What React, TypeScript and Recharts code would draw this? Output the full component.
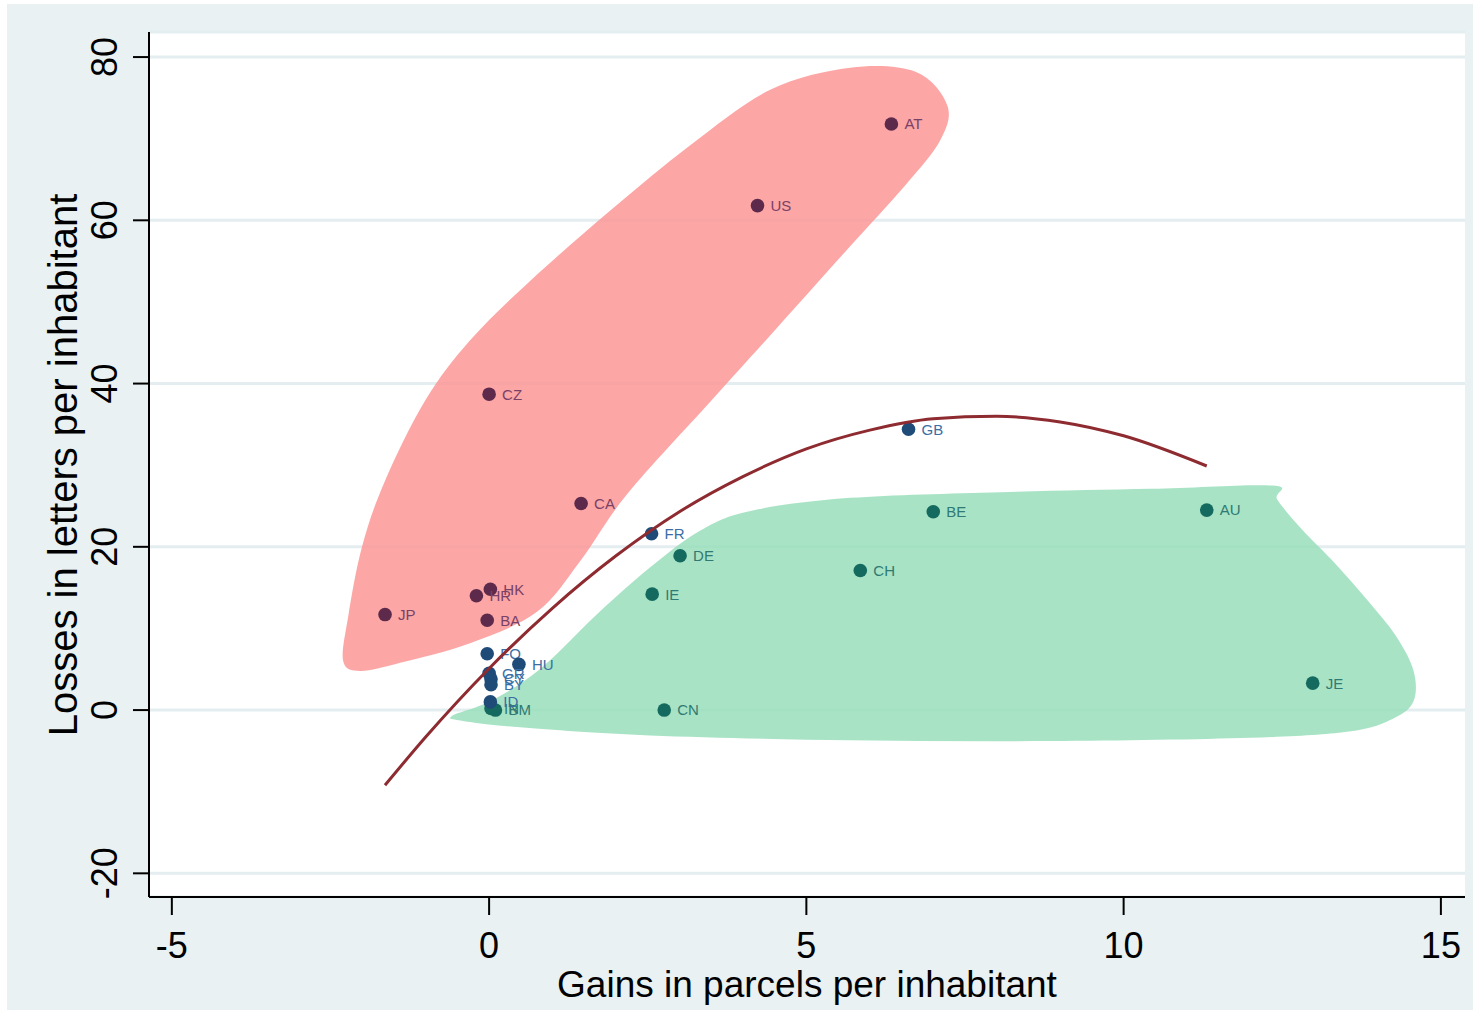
import React from "react";
import { ScatterChart, Scatter, XAxis, YAxis, CartesianGrid, Label } from "recharts";

// countries (gains = x, losses = y)
const RED_NAMES = ["AT", "US", "CZ", "CA", "HK", "HR", "JP", "BA"];
const RED_GAINS = [6.34, 4.23, 0.0, 1.45, 0.02, -0.2, -1.64, -0.03];
const RED_LOSSES = [71.8, 61.8, 38.7, 25.3, 14.8, 14.0, 11.7, 11.0];

const BLUE_NAMES = ["GB", "FR", "FO", "HU", "GR", "CY", "BY", "ID"];
const BLUE_GAINS = [6.61, 2.56, -0.03, 0.47, 0.0, 0.03, 0.03, 0.02];
const BLUE_LOSSES = [34.4, 21.6, 6.9, 5.6, 4.5, 3.8, 3.1, 1.0];

const GREEN_NAMES = ["AU", "BE", "DE", "CH", "IE", "JE", "CN", "IN", "BM"];
const GREEN_GAINS = [11.31, 7.0, 3.01, 5.85, 2.57, 12.98, 2.76, 0.03, 0.1];
const GREEN_LOSSES = [24.5, 24.3, 18.9, 17.1, 14.2, 3.3, 0.0, 0.2, 0.0];

// quadratic fit, sampled from the drawn curve
const FIT_X = [-1.64, -1, 0, 1, 2, 3, 4, 5, 6, 7, 8, 9, 10, 11.31];
const FIT_Y = [-9.2, -3.3, 5.1, 12.5, 18.9, 24.3, 28.6, 32.0, 34.3, 35.7, 36.0, 35.3, 33.6, 29.9];

// shaded group outlines
const RED_HULL_X = [-2.3, -2.22, -2.0, -1.64, -1.01, -0.3, 0.65, 1.91, 3.17, 4.43, 5.69, 6.72, 7.22, 7.11, 6.56, 5.63, 4.5, 3.5, 2.18, 1.44, 0.75, -0.3, -1.4, -2.03];
const RED_HULL_Y = [6.0, 11.5, 20.1, 28.1, 37.9, 45.3, 52.6, 61.2, 69.2, 76.0, 78.7, 78.2, 74.1, 69.8, 64.3, 56.3, 46.5, 37.9, 26.5, 18.3, 12.0, 8.2, 5.8, 4.8];
const GREEN_HULL_X = [-0.58, 0.02, 0.8, 1.75, 2.54, 3.33, 4.12, 5.69, 8.06, 10.43, 12.35, 12.42, 12.79, 13.34, 13.85, 14.29, 14.57, 14.57, 14.26, 13.58, 12.0, 8.85, 5.69, 2.54, 0.49, -0.43];
const GREEN_HULL_Y = [-0.7, 1.1, 5.0, 12.1, 17.5, 22.0, 24.4, 26.0, 26.7, 27.1, 27.5, 25.8, 22.3, 17.9, 13.4, 9.1, 4.8, 1.1, -1.0, -2.6, -3.4, -3.8, -3.7, -3.1, -2.1, -1.3];

const X_TICKS = [-5, 0, 5, 10, 15];
const Y_TICKS = [-20, 0, 20, 40, 60, 80];

const FONT = "'Liberation Sans', Arial, sans-serif";
const BG = "#E9F1F3";
const GRID = "#E4EDF0";

const zip = (xs: number[], ys: number[], names?: string[]) =>
  xs.map((x, i) => ({ x, y: ys[i], name: names ? names[i] : "" }));

const redPts = zip(RED_GAINS, RED_LOSSES, RED_NAMES);
const bluePts = zip(BLUE_GAINS, BLUE_LOSSES, BLUE_NAMES);
const greenPts = zip(GREEN_GAINS, GREEN_LOSSES, GREEN_NAMES);
const fitPts = zip(FIT_X, FIT_Y);
const redHull = zip(RED_HULL_X, RED_HULL_Y);
const greenHull = zip(GREEN_HULL_X, GREEN_HULL_Y);

// closed catmull-rom through pixel points
function closedPath(pts: { x: number; y: number }[]) {
  const n = pts.length;
  if (!n) return "";
  let d = `M${pts[0].x},${pts[0].y}`;
  for (let i = 0; i < n; i++) {
    const p0 = pts[(i - 1 + n) % n];
    const p1 = pts[i];
    const p2 = pts[(i + 1) % n];
    const p3 = pts[(i + 2) % n];
    const c1x = p1.x + (p2.x - p0.x) / 6;
    const c1y = p1.y + (p2.y - p0.y) / 6;
    const c2x = p2.x - (p3.x - p1.x) / 6;
    const c2y = p2.y - (p3.y - p1.y) / 6;
    d += ` C${c1x},${c1y} ${c2x},${c2y} ${p2.x},${p2.y}`;
  }
  return d + " Z";
}

function Blob(props: any) {
  return <path d={closedPath(props.points || [])} fill={props.tint} fillOpacity={0.85} stroke="none" />;
}

const noDot = () => <g />;

const dot = (fill: string, text: string) => (p: any) => {
  const name = p.payload?.name ?? p.name;
  return (
    <g>
      <circle cx={p.cx} cy={p.cy} r={6.8} fill={fill} />
      <text x={p.cx + 13} y={p.cy} dy="0.36em" fontSize={15} fontFamily={FONT} fill={text}>
        {name}
      </text>
    </g>
  );
};

const YTick = ({ x, y, payload }: any) => (
  <text
    x={x - 16}
    y={y}
    transform={`rotate(-90, ${x - 16}, ${y})`}
    textAnchor="middle"
    fontSize={36}
    fontFamily={FONT}
    fill="#000"
  >
    {payload.value}
  </text>
);

const XTick = ({ x, y, payload }: any) => (
  <text x={x} y={y + 43} textAnchor="middle" fontSize={36} fontFamily={FONT} fill="#000">
    {payload.value}
  </text>
);

export default function App() {
  return (
    <div style={{ position: "absolute", left: 7, top: 4, width: 1466, height: 1006, background: BG }}>
      <ScatterChart width={1466} height={1006} margin={{ top: 28, right: 8, left: 0, bottom: 0 }}>
        <CartesianGrid horizontal vertical={false} fill="#fff" stroke={GRID} strokeWidth={3} />
        <XAxis
          type="number"
          dataKey="x"
          domain={[-5.36, 15.38]}
          ticks={X_TICKS}
          interval={0}
          allowDataOverflow
          height={113}
          tickSize={18}
          tickMargin={0}
          axisLine={{ stroke: "#000", strokeWidth: 2 }}
          tickLine={{ stroke: "#000", strokeWidth: 2 }}
          tick={<XTick />}
        >
          <Label
            content={() => (
              <text x={800} y={993} textAnchor="middle" fontSize={37} fontFamily={FONT} fill="#000">
                Gains in parcels per inhabitant
              </text>
            )}
          />
        </XAxis>
        <YAxis
          type="number"
          dataKey="y"
          domain={[-22.9, 83.07]}
          ticks={Y_TICKS}
          interval={0}
          allowDataOverflow
          width={142}
          tickSize={16}
          tickMargin={0}
          axisLine={{ stroke: "#000", strokeWidth: 2 }}
          tickLine={{ stroke: "#000", strokeWidth: 2 }}
          tick={<YTick />}
        >
          <Label
            content={() => (
              <text
                x={70}
                y={461}
                transform="rotate(-90, 70, 461)"
                textAnchor="middle"
                fontSize={40}
                fontFamily={FONT}
                fill="#000"
              >
                Losses in letters per inhabitant
              </text>
            )}
          />
        </YAxis>
        <Scatter data={redHull} shape={noDot} line={<Blob tint="rgb(251,151,150)" />} isAnimationActive={false} />
        <Scatter data={greenHull} shape={noDot} line={<Blob tint="rgb(153,222,187)" />} isAnimationActive={false} />
        <Scatter data={greenPts} shape={dot("#156A60", "#2F7A73")} isAnimationActive={false} />
        <Scatter data={bluePts} shape={dot("#1E4B78", "#3A6EA5")} isAnimationActive={false} />
        <Scatter data={redPts} shape={dot("#5E2A4B", "#7A4166")} isAnimationActive={false} />
        <Scatter
          data={fitPts}
          shape={noDot}
          line={{ stroke: "#8E2B30", strokeWidth: 3 }}
          lineJointType="monotoneX"
          isAnimationActive={false}
        />
      </ScatterChart>
    </div>
  );
}
